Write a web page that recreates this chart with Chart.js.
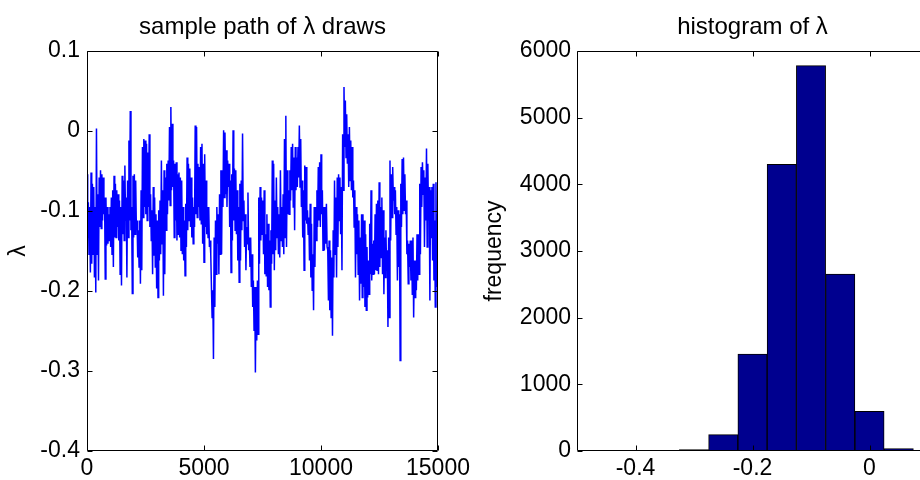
<!DOCTYPE html>
<html><head><meta charset="utf-8">
<script src="https://cdn.jsdelivr.net/npm/chart.js@4.4.1/dist/chart.umd.min.js"></script>
<style>
html,body{margin:0;padding:0;background:#fff;overflow:hidden;width:920px;height:480px;}
canvas{position:absolute;top:0;}
#c1{left:0;} #c2{left:460px;}
</style></head><body>
<canvas id="c1" width="500" height="480"></canvas>
<canvas id="c2" width="480" height="480"></canvas>
<script>
// ---- sample path: upper / lower extent of the draws in successive short stretches of iterations ----
const pathHighs = [
-0.054,-0.089,-0.095,-0.052,-0.066,-0.070,-0.095,0.003,-0.079,-0.058,
-0.049,-0.054,-0.058,-0.083,-0.083,-0.095,-0.104,-0.095,-0.083,-0.074,
-0.056,-0.066,-0.074,-0.079,-0.087,-0.095,-0.056,-0.062,-0.043,-0.083,
-0.062,-0.012,0.025,-0.095,-0.056,-0.054,-0.062,-0.112,-0.124,-0.112,
-0.074,-0.020,-0.010,-0.012,-0.016,-0.027,-0.004,-0.079,-0.099,-0.070,
-0.083,-0.104,-0.112,-0.099,-0.087,-0.037,-0.074,-0.049,-0.058,-0.041,
-0.037,0.005,0.030,0.009,
-0.037,-0.041,-0.039,-0.054,-0.052,-0.058,-0.062,-0.095,-0.112,-0.091,
-0.033,-0.041,-0.047,-0.058,-0.083,-0.095,0.007,0.005,-0.041,-0.045,
-0.020,-0.016,-0.041,-0.029,-0.062,-0.095,-0.095,-0.137,-0.195,-0.199,
-0.133,-0.112,-0.095,-0.104,-0.079,-0.049,-0.049,0.001,-0.002,-0.024,
-0.037,-0.041,-0.062,-0.054,0.001,-0.047,-0.049,-0.074,-0.095,-0.066,
-0.062,-0.003,-0.087,-0.104,-0.120,-0.077,-0.133,-0.133,-0.154,-0.187,
-0.195,-0.195,-0.187,-0.083,-0.070,-0.083,
-0.087,-0.074,-0.129,-0.104,-0.116,-0.137,-0.124,-0.037,-0.041,-0.087,
-0.058,-0.095,-0.104,-0.049,-0.095,-0.079,-0.010,0.019,-0.049,-0.074,
-0.049,-0.020,-0.016,-0.033,-0.020,-0.033,-0.020,0.007,-0.010,-0.062,
-0.074,-0.043,-0.045,-0.099,-0.108,-0.091,-0.116,-0.154,-0.095,-0.095,
-0.074,-0.045,-0.039,-0.029,-0.074,-0.095,-0.095,-0.091,-0.149,-0.137,
-0.149,-0.158,-0.124,-0.062,-0.083,-0.058,-0.054,-0.058,-0.070,-0.004,
0.055,0.038,0.021,-0.004,0.005,
-0.012,-0.020,-0.062,-0.074,-0.095,-0.104,-0.112,-0.133,-0.104,-0.104,
-0.112,-0.129,-0.145,-0.162,-0.116,-0.074,-0.141,-0.137,-0.104,-0.091,
-0.087,-0.064,-0.095,-0.083,-0.099,-0.133,-0.124,-0.149,-0.133,-0.037,
-0.054,-0.045,-0.070,-0.074,-0.095,-0.099,-0.104,-0.066,-0.035,-0.033,
-0.054,-0.087,-0.137,-0.141,-0.137,-0.137,-0.133,-0.162,-0.162,-0.129,
-0.129,-0.066,-0.045,-0.039,-0.049,-0.058,-0.022,-0.041,-0.070,-0.074,
-0.070,-0.066,-0.112,-0.064,-0.104
];
const pathLows = [
-0.133,-0.154,-0.177,-0.166,-0.154,-0.183,-0.202,-0.154,-0.187,-0.120,
-0.122,-0.112,-0.104,-0.185,-0.143,-0.141,-0.137,-0.145,-0.154,-0.170,
-0.133,-0.133,-0.120,-0.137,-0.179,-0.193,-0.129,-0.137,-0.112,-0.183,
-0.133,-0.112,-0.124,-0.203,-0.133,-0.129,-0.122,-0.158,-0.170,-0.191,
-0.174,-0.108,-0.095,-0.104,-0.112,-0.095,-0.120,-0.137,-0.179,-0.156,
-0.170,-0.197,-0.208,-0.162,-0.154,-0.141,-0.206,-0.179,-0.124,-0.104,
-0.087,-0.093,-0.074,-0.070,
-0.133,-0.112,-0.137,-0.129,-0.133,-0.149,-0.154,-0.162,-0.181,-0.145,
-0.124,-0.112,-0.120,-0.133,-0.141,-0.120,-0.104,-0.108,-0.095,-0.112,
-0.116,-0.141,-0.164,-0.120,-0.129,-0.133,-0.145,-0.154,-0.233,-0.285,
-0.220,-0.179,-0.141,-0.179,-0.154,-0.154,-0.095,-0.083,-0.079,-0.095,
-0.070,-0.120,-0.177,-0.137,-0.112,-0.124,-0.129,-0.162,-0.189,-0.162,
-0.124,-0.112,-0.145,-0.174,-0.141,-0.149,-0.170,-0.195,-0.220,-0.249,
-0.302,-0.262,-0.254,-0.166,-0.137,-0.129,
-0.154,-0.179,-0.181,-0.195,-0.199,-0.220,-0.166,-0.154,-0.174,-0.149,
-0.133,-0.154,-0.158,-0.137,-0.145,-0.154,-0.133,-0.145,-0.104,-0.104,
-0.087,-0.074,-0.095,-0.124,-0.074,-0.070,-0.058,-0.070,-0.095,-0.133,
-0.174,-0.112,-0.116,-0.129,-0.162,-0.183,-0.199,-0.224,-0.170,-0.137,
-0.120,-0.112,-0.120,-0.104,-0.149,-0.149,-0.141,-0.145,-0.212,-0.224,
-0.233,-0.256,-0.183,-0.154,-0.183,-0.145,-0.112,-0.129,-0.174,-0.074,
-0.020,-0.033,-0.041,-0.070,-0.062,
-0.074,-0.083,-0.120,-0.183,-0.154,-0.179,-0.212,-0.191,-0.208,-0.195,
-0.220,-0.224,-0.208,-0.204,-0.179,-0.187,-0.179,-0.179,-0.174,-0.174,
-0.179,-0.170,-0.158,-0.179,-0.204,-0.183,-0.174,-0.245,-0.233,-0.137,
-0.108,-0.087,-0.104,-0.129,-0.187,-0.170,-0.287,-0.120,-0.104,-0.099,
-0.104,-0.154,-0.191,-0.170,-0.187,-0.204,-0.233,-0.208,-0.199,-0.187,
-0.179,-0.154,-0.095,-0.079,-0.145,-0.112,-0.145,-0.112,-0.212,-0.133,
-0.162,-0.187,-0.220,-0.195,-0.154
];
const totalDraws = 15000;
const pathXTicks = [0, 5000, 10000, 15000];
const pathYTicks = [-0.4, -0.3, -0.2, -0.1, 0, 0.1];

// ---- histogram ----
const binCenters = [-0.35, -0.3, -0.25, -0.2, -0.15, -0.1, -0.05, 0, 0.05];
const binCounts  = [10, 20, 245, 1455, 4300, 5780, 2655, 595, 35];
const histXTicks = [-0.4, -0.2, 0];
const histYTicks = [0, 1000, 2000, 3000, 4000, 5000, 6000];

const FAMILY = "'Liberation Sans', Arial, Helvetica, sans-serif";
const FONT = {family: FAMILY, size: 23, weight: 'normal'};
const TFONT = {family: FAMILY, size: 24, weight: 'normal'};

const framePlugin = {
  id: 'matlabFrame',
  afterDatasetsDraw(chart) {
    const {ctx, chartArea: a, scales: {x, y}} = chart;
    const L = 5;
    const l = Math.round(a.left) + 0.5, r = Math.round(a.right) - 0.5;
    const t = Math.round(a.top) + 0.5, b = Math.round(a.bottom) - 0.5;
    ctx.save();
    ctx.strokeStyle = '#000';
    ctx.lineWidth = 1;
    ctx.beginPath();
    ctx.rect(l, t, r - l, b - t);
    x.ticks.forEach(tk => {
      const px = Math.round(x.getPixelForValue(tk.value)) + 0.5;
      ctx.moveTo(px, b); ctx.lineTo(px, b - L);
      ctx.moveTo(px, t); ctx.lineTo(px, t + L);
    });
    y.ticks.forEach(tk => {
      const py = Math.round(y.getPixelForValue(tk.value)) + 0.5;
      ctx.moveTo(l, py); ctx.lineTo(l + L, py);
      ctx.moveTo(r, py); ctx.lineTo(r - L, py);
    });
    ctx.stroke();
    ctx.restore();
  }
};

// interleave highs and lows so the trace sweeps the band like the dense MCMC path
const pathValues = [];
pathHighs.forEach((h, i) => { pathValues.push(h, pathLows[i]); });
const pathData = pathValues.map((v, i) => ({x: i * totalDraws / (pathValues.length - 1), y: v}));

new Chart(document.getElementById('c1'), {
  type: 'line',
  data: {datasets: [{data: pathData, borderColor: '#0000ff', borderWidth: 1.5, pointRadius: 0, tension: 0, fill: false}]},
  options: {
    responsive: false, animation: false, devicePixelRatio: 1,
    layout: {padding: {left: 0, right: 62, top: 0, bottom: 0}},
    plugins: {
      legend: {display: false}, tooltip: {enabled: false},
      title: {display: true, text: 'sample path of λ draws', fullSize: false, color: '#000', font: TFONT, padding: {top: 12.6, bottom: 9.6}}
    },
    scales: {
      x: {type: 'linear', min: 0, max: totalDraws, offset: false,
        grid: {display: false, drawTicks: false}, border: {display: false},
        afterBuildTicks: s => { s.ticks = pathXTicks.map(v => ({value: v})); },
        ticks: {color: '#000', font: FONT, padding: 4, maxRotation: 0, autoSkip: false, callback: v => String(v)},
        afterFit: s => { s.height = 29; }
      },
      y: {type: 'linear', min: -0.4, max: 0.1,
        grid: {display: false, drawTicks: false}, border: {display: false},
        afterBuildTicks: s => { s.ticks = pathYTicks.map(v => ({value: v})); },
        ticks: {color: '#000', font: FONT, padding: 7, autoSkip: false, callback: v => String(Math.round(v * 10) / 10)},
        title: {display: true, text: 'λ', color: '#000', font: FONT, padding: {top: 5, bottom: 0}},
        afterFit: s => { s.width = 87; }
      }
    }
  },
  plugins: [framePlugin]
});

new Chart(document.getElementById('c2'), {
  type: 'bar',
  data: {datasets: [{
    data: binCenters.map((c, i) => ({x: c, y: binCounts[i]})),
    backgroundColor: '#00008f', borderColor: '#000', borderWidth: 1,
    barPercentage: 1, categoryPercentage: 1, borderSkipped: 'start'
  }]},
  options: {
    responsive: false, animation: false, devicePixelRatio: 1,
    layout: {padding: {left: 0, right: 12, top: 0, bottom: 0}},
    plugins: {
      legend: {display: false}, tooltip: {enabled: false},
      title: {display: true, text: 'histogram of λ', fullSize: false, color: '#000', font: TFONT, padding: {top: 12.6, bottom: 9.6}}
    },
    scales: {
      x: {type: 'linear', min: -0.5, max: 0.1, offset: false,
        grid: {display: false, drawTicks: false, offset: false}, border: {display: false},
        afterBuildTicks: s => { s.ticks = histXTicks.map(v => ({value: v})); },
        ticks: {color: '#000', font: FONT, padding: 4, maxRotation: 0, autoSkip: false, callback: v => String(Math.round(v * 10) / 10)},
        afterFit: s => { s.height = 29; }
      },
      y: {type: 'linear', min: 0, max: 6000,
        grid: {display: false, drawTicks: false}, border: {display: false},
        afterBuildTicks: s => { s.ticks = histYTicks.map(v => ({value: v})); },
        ticks: {color: '#000', font: FONT, padding: 6, autoSkip: false, callback: v => String(v)},
        title: {display: true, text: 'frequency', color: '#000', font: FONT, padding: {top: 21, bottom: 0}},
        afterFit: s => { s.width = 117; }
      }
    }
  },
  plugins: [framePlugin]
});
</script>
</body></html>
